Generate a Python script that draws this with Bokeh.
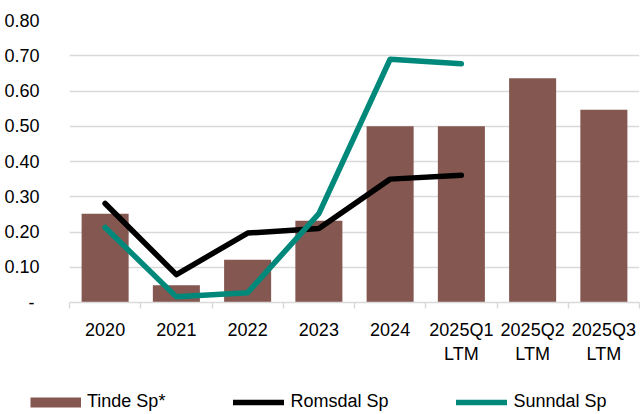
import numpy as np
from bokeh.plotting import figure
from bokeh.layouts import column
from bokeh.models import (Range1d, FixedTicker, Legend, LegendItem, ColumnDataSource,
                          NumeralTickFormatter)
from bokeh.embed import file_html
from bokeh.resources import INLINE

categories = ["2020", "2021", "2022", "2023", "2024", "2025Q1\nLTM", "2025Q2\nLTM", "2025Q3\nLTM"]
tinde = [0.252, 0.049, 0.121, 0.232, 0.500, 0.500, 0.636, 0.547]
romsdal = [0.281, 0.079, 0.197, 0.210, 0.350, 0.361, np.nan, np.nan]
sunndal = [0.213, 0.016, 0.028, 0.252, 0.690, 0.677, np.nan, np.nan]
y_ticks = [0.0, 0.1, 0.2, 0.3, 0.4, 0.5, 0.6, 0.7, 0.8]
series_names = ["Tinde Sp*", "Romsdal Sp", "Sunndal Sp"]

BROWN = "#845750"
TEAL = "#00897B"
FONT = "Liberation Sans"
GRID = "#d9d9d9"

n = len(categories)
xc = np.arange(n) + 0.5

p = figure(width=640, height=370, output_backend="svg", toolbar_location=None,
           x_range=Range1d(0, n), y_range=Range1d(0, 0.8),
           min_border_left=69, min_border_right=1, min_border_top=20, min_border_bottom=68)
p.outline_line_color = None
p.background_fill_color = "white"
p.border_fill_color = "white"

src = ColumnDataSource(dict(x=xc, tinde=tinde, romsdal=romsdal, sunndal=sunndal))

p.vbar(x="x", top="tinde", width=0.66, source=src, fill_color=BROWN, line_color=None)
p.line(x="x", y="romsdal", source=src, line_color="black", line_width=5.5,
       line_cap="round", line_join="round")
p.line(x="x", y="sunndal", source=src, line_color=TEAL, line_width=5.5,
       line_cap="round", line_join="round")

# x axis: labels at centers, ticks at category boundaries
xa = p.xaxis[0]
xa.ticker = FixedTicker(ticks=list(xc), minor_ticks=list(range(n + 1)))
xa.major_label_overrides = {float(x): c for x, c in zip(xc, categories)}
xa.major_tick_out = 0
xa.major_tick_in = 0
xa.minor_tick_out = 6
xa.minor_tick_in = 0
xa.minor_tick_line_color = GRID
xa.minor_tick_line_width = 1.5
xa.axis_line_color = GRID
xa.axis_line_width = 1.5
xa.major_label_text_font = FONT
xa.major_label_text_font_size = "18px"
xa.major_label_text_color = "black"
xa.major_label_standoff = 11
xa.major_label_orientation = "horizontal"

ya = p.yaxis[0]
ya.ticker = FixedTicker(ticks=y_ticks)
ya.formatter = NumeralTickFormatter(format="0.00")
ya.major_label_overrides = {0: "-\u00a0"}
ya.axis_line_color = None
ya.major_tick_line_color = None
ya.minor_tick_line_color = None
ya.major_label_text_font = FONT
ya.major_label_text_font_size = "18px"
ya.major_label_text_color = "black"
ya.major_label_standoff = 24

p.xgrid.grid_line_color = None
p.ygrid.ticker = FixedTicker(ticks=y_ticks)
p.ygrid.grid_line_color = GRID
p.ygrid.grid_line_width = 1.3

# legend strip below the chart
lg = figure(width=640, height=44, output_backend="svg", toolbar_location=None,
            x_range=Range1d(0, 1), y_range=Range1d(0, 1),
            x_axis_type=None, y_axis_type=None,
            min_border_left=0, min_border_right=0, min_border_top=0, min_border_bottom=0)
if "frame_align" in lg.properties():
    lg.frame_align = False
lg.outline_line_color = None
lg.xgrid.grid_line_color = None
lg.ygrid.grid_line_color = None
k1 = lg.line(x=[np.nan], y=[np.nan], line_color=BROWN, line_width=10, line_cap="butt")
k2 = lg.line(x=[np.nan], y=[np.nan], line_color="black", line_width=5.5, line_cap="round")
k3 = lg.line(x=[np.nan], y=[np.nan], line_color=TEAL, line_width=5.5, line_cap="round")
legend = Legend(items=[LegendItem(label=series_names[0], renderers=[k1]),
                       LegendItem(label=series_names[1], renderers=[k2]),
                       LegendItem(label=series_names[2], renderers=[k3])],
                location=(30, 2), orientation="horizontal",
                glyph_width=51, glyph_height=12, label_height=12, label_standoff=6, spacing=68,
                padding=0, margin=0, border_line_color=None, background_fill_alpha=0,
                label_text_font=FONT, label_text_font_size="18px", label_text_color="black")
lg.add_layout(legend, "center")

layout = column(p, lg, spacing=0)
open("out.html", "w").write(file_html(layout, INLINE))
